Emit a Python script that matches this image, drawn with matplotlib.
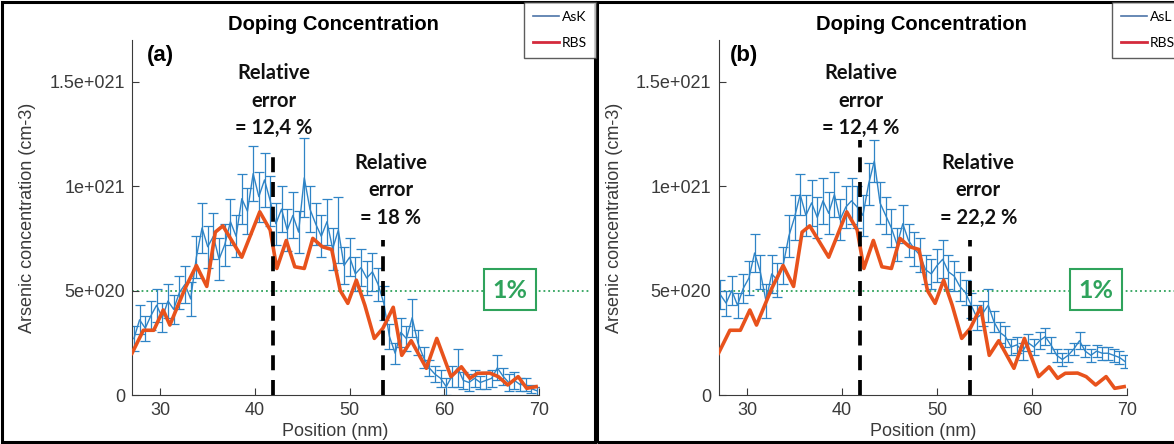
import numpy as np
import matplotlib.pyplot as plt
from matplotlib.lines import Line2D
from matplotlib.patches import Rectangle

# ---- data (concentrations in 1e20 cm-3) ----
pos_eds = np.round(np.arange(27.2, 70.0, 0.6), 1)

ask = [2.7, 3.6, 3.2, 3.8, 4.3, 3.7, 4.5, 4.1, 4.9, 5.3, 4.6, 6.6,
       8.0, 7.1, 7.6, 6.5, 7.2, 8.3, 7.6, 9.4, 8.8, 10.6, 9.5, 10.3,
       9.3, 8.2, 8.9, 7.9, 8.6, 7.8, 10.4, 8.9, 8.2, 7.6, 8.3, 7.0,
       7.9, 6.2, 6.6, 5.8, 6.1, 5.6, 5.9, 5.3, 4.4, 2.8, 2.0, 3.0,
       2.7, 3.7, 2.5, 1.8, 1.3, 1.0, 0.8, 0.4, 0.9, 1.3, 0.7, 0.6,
       0.8, 0.6, 0.7, 0.8, 1.3, 0.9, 0.6, 0.7, 0.5, 0.5, 0.3, 0.2]
ask_err = [0.6, 0.7, 0.6, 0.7, 0.8, 0.7, 0.8, 0.7, 0.8, 0.9, 0.8, 1.0,
           1.2, 1.0, 1.1, 1.0, 1.0, 1.1, 1.0, 1.2, 1.1, 1.3, 1.2, 1.3,
           1.2, 1.0, 1.1, 1.0, 1.1, 1.0, 1.9, 1.1, 1.0, 1.0, 1.1, 1.0,
           1.6, 0.9, 0.9, 0.8, 0.9, 0.8, 0.9, 0.8, 0.8, 0.6, 0.5, 0.7,
           0.6, 0.9, 0.6, 0.5, 0.4, 0.4, 0.4, 0.4, 0.5, 0.9, 0.4, 0.4,
           0.4, 0.3, 0.4, 0.4, 0.6, 0.4, 0.4, 0.4, 0.3, 0.3, 0.2, 0.2]

asl = [4.8, 4.4, 5.0, 4.3, 5.1, 5.6, 6.8, 5.9, 4.5, 5.8, 5.5, 6.2,
       7.6, 8.5, 9.6, 8.6, 9.2, 8.5, 9.3, 8.7, 9.6, 8.4, 9.0, 9.3,
       9.0, 8.6, 10.1, 11.2, 9.2, 8.6, 8.0, 7.2, 8.2, 7.4, 7.0, 6.7,
       6.0, 5.8, 6.2, 6.5, 5.9, 5.7, 5.2, 4.9, 4.3, 3.7, 3.9, 4.3,
       3.5, 3.0, 2.8, 2.3, 2.4, 2.1, 2.5, 2.3, 2.6, 2.8, 2.4, 1.9,
       1.7, 1.9, 2.2, 2.6, 2.1, 1.9, 2.1, 2.0, 2.0, 1.9, 1.8, 1.6]
asl_err = [0.7, 0.6, 0.7, 0.6, 0.7, 0.8, 0.9, 0.8, 0.8, 0.9, 0.8, 0.9,
           1.0, 1.1, 1.0, 1.0, 1.1, 1.0, 1.1, 1.0, 1.1, 1.0, 1.0, 1.1,
           1.0, 1.0, 1.0, 1.0, 1.0, 0.9, 0.9, 0.8, 0.9, 0.8, 0.8, 0.8,
           0.7, 0.7, 0.8, 0.9, 0.8, 0.7, 0.7, 0.6, 0.6, 0.6, 0.6, 0.8,
           0.5, 0.5, 0.5, 0.4, 0.4, 0.4, 0.4, 0.4, 0.4, 0.4, 0.4, 0.3,
           0.3, 0.3, 0.3, 0.4, 0.3, 0.3, 0.3, 0.3, 0.3, 0.3, 0.3, 0.3]

rbs_pos = [27.0, 28.2, 29.3, 30.3, 31.0, 32.6, 33.8, 34.9, 35.8, 36.6, 38.6,
           40.5, 41.6, 42.3, 43.3, 44.2, 45.2, 46.1, 47.1, 48.1, 49.0, 49.8,
           50.7, 51.6, 52.6, 53.5, 54.6, 55.5, 56.5, 58.1, 59.2, 60.7, 61.8,
           62.7, 63.5, 64.8, 65.7, 66.7, 67.8, 68.7, 69.7]
rbs = [2.0, 3.1, 3.1, 4.07, 3.35, 5.1, 6.2, 5.2, 7.8, 8.1, 6.6,
       8.77, 7.9, 6.06, 7.4, 6.14, 6.06, 7.5, 7.1, 6.97, 5.0, 4.39,
       5.5, 4.3, 2.71, 3.19, 4.2, 1.9, 2.6, 1.28, 2.71, 0.88, 1.35,
       0.8, 1.04, 1.05, 0.88, 0.48, 0.88, 0.32, 0.4]

cut_pos = [41.9, 53.5]
cut_top_a = [11.7, 7.4]
cut_top_b = [12.2, 7.4]
yticks = [0, 5e20, 1e21, 1.5e21]
ytick_labels = ["0", "5e+020", "1e+021", "1.5e+021"]
xticks = [30, 40, 50, 60, 70]

W, H = 1174, 444
BLUE = "#2f84c6"
ORANGE = "#e8521c"
GREEN = "#2fa35c"
AXCOL = "#3a3a3a"

plt.rcParams["font.family"] = ["Liberation Sans", "DejaVu Sans"]
fig = plt.figure(figsize=(W / 100, H / 100), dpi=100)


def fx(px):
    return px / W


def fy(py):
    return 1 - py / H


def panel(left, right, letter, letter_x, vals, errs, err2, tops):
    ax = fig.add_axes([fx(left), fy(395), fx(right - left), fy(40) - fy(395)])
    ax.errorbar(pos_eds, np.array(vals) * 1e20, yerr=np.array(errs) * 1e20,
                color=BLUE, lw=1.0, elinewidth=0.9, capsize=3.5, capthick=0.9, zorder=2)
    ax.plot(rbs_pos, np.array(rbs) * 1e20, color=ORANGE, lw=2.6, zorder=3)

    ax.set_xlim(27, 70)
    ax.set_ylim(0, 1.7e21)
    ax.set_xticks(xticks)
    ax.set_yticks(yticks)
    ax.set_yticklabels(ytick_labels)
    for s in ["top", "right"]:
        ax.spines[s].set_visible(False)
    for s in ["left", "bottom"]:
        ax.spines[s].set_color(AXCOL)
    ax.tick_params(direction="in", length=5, colors=AXCOL, labelsize=13, pad=5)
    ax.set_xlabel("Position (nm)", fontsize=13, color=AXCOL)
    ax.set_ylabel("Arsenic concentration (cm-3)", fontsize=13, color=AXCOL)
    ax.xaxis.set_label_coords(0.5, -0.08)
    ax.yaxis.set_label_coords(-0.235, 0.5)

    # 1% line + boxed label
    ax.plot([27, 75.5], [5e20, 5e20], ls=":", color=GREEN, lw=1.3, clip_on=False, zorder=1)
    x0 = 27 + (left + 352 - left) / 9.47 if letter == "(a)" else 64.0
    box = Rectangle((x0, 4.07e20), 5.5, 1.96e20, fc="white", ec=GREEN, lw=1.5, zorder=5)
    ax.add_patch(box)
    ax.text(x0 + 2.75, 5.0e20, "1%", color=GREEN, fontsize=18, fontweight="bold",
            family="Lato", ha="center", va="center", zorder=6)

    # interface lines and errors
    for xc, yt in zip(cut_pos, tops):
        ax.plot([xc, xc], [0, yt * 1e20], color="black", lw=2.7, ls=(0, (4, 2.6)),
                clip_on=False, zorder=4)
    ax.text(42.0, 14.1e20, "Relative\nerror\n= 12,4 %", fontsize=14.5, fontweight="bold",
            family="Lato", ha="center", va="center", linespacing=1.45, color="#111111")
    ax.text(54.35, 9.8e20, "Relative\nerror\n= " + err2, fontsize=14.5, fontweight="bold",
            family="Lato", ha="center", va="center", linespacing=1.45, color="#111111")

    ax.text((letter_x - left) / (right - left), 1 - (55 - 40) / 355, letter,
            transform=ax.transAxes, fontsize=16, fontweight="bold", ha="center", va="center")
    return ax


ax1 = panel(132, 539, "(a)", 160, ask, ask_err, "18 %", cut_top_a)
ax2 = panel(718.5, 1127, "(b)", 744, asl, asl_err, "22,2 %", cut_top_b)

# titles
for tx in [333, 921]:
    fig.text(fx(tx), fy(25), "Doping Concentration", fontsize=14.5, fontweight="bold",
             ha="center", va="center")

# legends
for lx, name in [(524, "AsK"), (1112, "AsL")]:
    handles = [Line2D([], [], color="#4d74a8", lw=1.2),
               Line2D([], [], color="#d42a3c", lw=2.0)]
    fig.legend(handles, [name, "RBS"], loc="upper left",
               bbox_to_anchor=(fx(lx), fy(2)), bbox_transform=fig.transFigure,
               frameon=True, fancybox=False, edgecolor="#333333",
               handlelength=1.9, handletextpad=0.2, labelspacing=1.0,
               borderpad=0.65, borderaxespad=0, prop={"family": "Lato", "size": 10})

# frames around the two panels
fig.add_artist(Rectangle((fx(2), fy(442)), fx(593), fy(2) - fy(442), fill=False,
                         lw=2.2, ec="black", transform=fig.transFigure))
fig.add_artist(Rectangle((fx(597), fy(442)), fx(600), fy(2) - fy(442), fill=False,
                         lw=2.2, ec="black", transform=fig.transFigure))

fig.savefig("out.png", dpi=100)
